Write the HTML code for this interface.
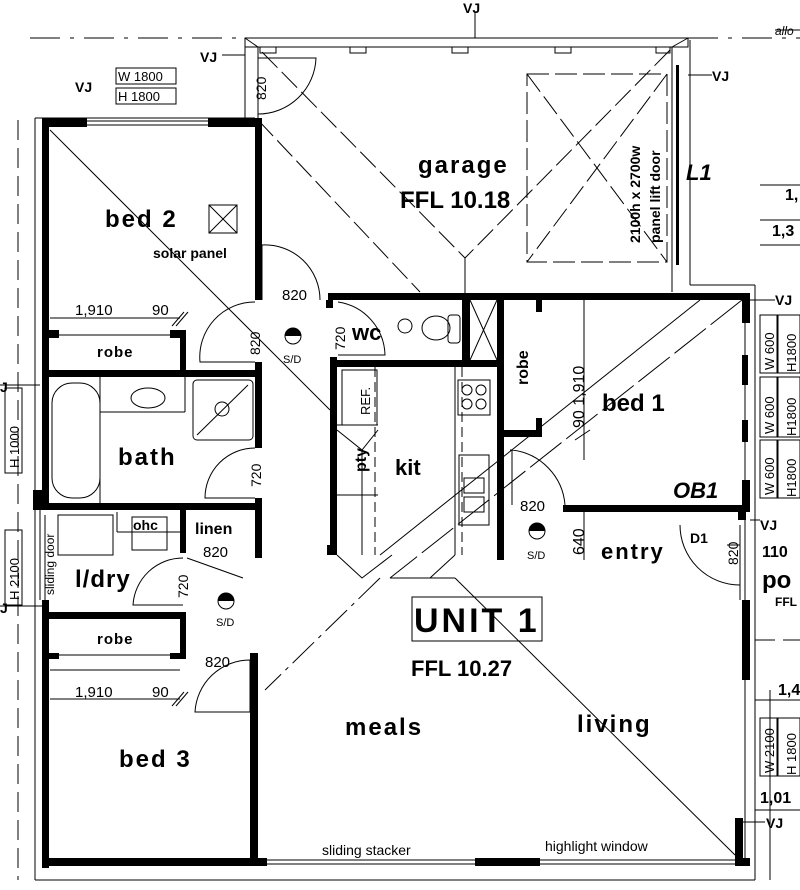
<!DOCTYPE html>
<html><head><meta charset="utf-8"><style>
html,body{margin:0;padding:0;background:#fff}
svg{display:block}
text{font-family:"Liberation Sans",sans-serif;fill:#000}
.b{font-weight:bold}
</style></head><body>
<svg width="800" height="890" viewBox="0 0 800 890" xmlns="http://www.w3.org/2000/svg">
<rect width="800" height="890" fill="#fff"/>
<g stroke="#000" stroke-width="1" fill="none">
<line x1="30" y1="38" x2="245" y2="38" stroke-dasharray="30,10,4,10"/>
<line x1="688" y1="38" x2="800" y2="38" stroke-dasharray="30,10,4,10"/>
<line x1="475" y1="12" x2="475" y2="38"/>
<line x1="18" y1="120" x2="18" y2="880" stroke-dasharray="20,8"/>
<line x1="35" y1="118" x2="35" y2="880"/>
<line x1="35" y1="118" x2="255" y2="118"/>
<line x1="35" y1="880" x2="755" y2="880"/>
<line x1="755" y1="285" x2="755" y2="880"/>
<line x1="690" y1="40" x2="690" y2="285"/>
<line x1="690" y1="285" x2="755" y2="285"/>
<line x1="755" y1="640" x2="800" y2="640" stroke-dasharray="20,8"/>
<line x1="760" y1="185" x2="800" y2="185"/><line x1="760" y1="220" x2="800" y2="220"/>
<line x1="760" y1="245" x2="800" y2="245"/>
<line x1="770" y1="690" x2="770" y2="880"/>
<line x1="755" y1="700" x2="800" y2="700"/>
<line x1="755" y1="810" x2="800" y2="810"/>
<!-- garage thin walls -->
<rect x="245" y="38" width="443" height="9"/>
<line x1="245" y1="47" x2="245" y2="118"/><line x1="258" y1="47" x2="258" y2="118"/>
<line x1="672" y1="47" x2="672" y2="292"/>
<line x1="245" y1="38" x2="258" y2="47"/><line x1="688" y1="38" x2="672" y2="47"/>
<rect x="260" y="47" width="16" height="6"/><rect x="350" y="47" width="16" height="6"/>
<rect x="452" y="47" width="16" height="6"/><rect x="555" y="47" width="16" height="6"/><rect x="656" y="47" width="14" height="6"/>
</g>
<g fill="#000">
<rect x="676" y="65" width="3" height="200"/>
<rect x="42" y="118" width="45" height="9"/>
<rect x="208" y="118" width="54" height="9"/>
<rect x="42" y="118" width="7" height="390"/>
<rect x="255" y="118" width="7" height="182"/>
<rect x="49" y="330" width="10" height="8"/>
<rect x="170" y="330" width="16" height="8"/>
<rect x="180" y="330" width="6" height="45"/>
<rect x="42" y="370" width="220" height="7"/>
<rect x="255" y="362" width="7" height="86"/>
<rect x="255" y="498" width="7" height="60"/>
<rect x="42" y="503" width="220" height="7"/>
<rect x="180" y="503" width="6" height="50"/>
<rect x="33" y="490" width="12" height="20"/>
<rect x="42" y="600" width="7" height="268"/>
<rect x="42" y="612" width="144" height="7"/>
<rect x="180" y="612" width="6" height="46"/>
<rect x="170" y="653" width="16" height="6"/>
<rect x="49" y="653" width="10" height="6"/>
<rect x="250" y="653" width="8" height="213"/>
<rect x="42" y="858" width="225" height="8"/>
<rect x="475" y="858" width="65" height="8"/>
<rect x="735" y="858" width="15" height="8"/>
<rect x="735" y="818" width="8" height="48"/>
<rect x="328" y="293" width="422" height="7"/>
<rect x="326" y="300" width="7" height="8"/>
<rect x="330" y="357" width="7" height="198"/>
<rect x="330" y="360" width="168" height="7"/>
<rect x="462" y="300" width="8" height="60"/>
<rect x="497" y="300" width="7" height="260"/>
<rect x="504" y="430" width="38" height="7"/>
<rect x="536" y="300" width="6" height="12"/>
<rect x="536" y="418" width="6" height="19"/>
<rect x="563" y="505" width="187" height="7"/>
<rect x="742" y="293" width="8" height="30"/>
<rect x="742" y="355" width="6" height="30"/>
<rect x="742" y="420" width="6" height="22"/>
<rect x="742" y="480" width="8" height="32"/>
<rect x="738" y="510" width="8" height="10"/>
<rect x="742" y="600" width="8" height="80"/>
<rect x="327" y="545" width="10" height="10"/>
</g>
<g stroke="#000" stroke-width="1" fill="none">
<line x1="87" y1="121" x2="208" y2="121"/><line x1="87" y1="125" x2="208" y2="125"/>
<line x1="267" y1="860" x2="475" y2="860"/><line x1="267" y1="864" x2="475" y2="864"/>
<line x1="540" y1="860" x2="735" y2="860"/><line x1="540" y1="864" x2="735" y2="864"/>
<line x1="745" y1="300" x2="745" y2="860"/>
<line x1="40" y1="510" x2="40" y2="600"/><line x1="45" y1="515" x2="45" y2="600"/>
<g stroke-dasharray="22,6">
<line x1="262" y1="52" x2="465" y2="258"/><line x1="670" y1="50" x2="465" y2="258"/>
<line x1="258" y1="120" x2="420" y2="292"/>
<rect x="527" y="74" width="140" height="188"/>
<line x1="527" y1="74" x2="667" y2="262"/><line x1="667" y1="74" x2="527" y2="262"/>
</g>
<line x1="465" y1="258" x2="465" y2="293"/>
<line x1="50" y1="130" x2="330" y2="410"/>
<line x1="50" y1="318" x2="180" y2="318"/>
<line x1="50" y1="335" x2="180" y2="335"/>
<line x1="50" y1="670" x2="180" y2="670"/>
<line x1="50" y1="699" x2="180" y2="699"/>
<line x1="50" y1="655" x2="180" y2="655"/>
<rect x="209" y="205" width="28" height="28"/><line x1="209" y1="205" x2="237" y2="233"/><line x1="237" y1="205" x2="209" y2="233"/>
<rect x="52" y="383" width="48" height="115" rx="20"/>
<line x1="100" y1="377" x2="100" y2="503"/>
<line x1="100" y1="412" x2="185" y2="412"/><line x1="185" y1="377" x2="185" y2="412"/>
<ellipse cx="148" cy="398" rx="17" ry="10"/>
<rect x="193" y="380" width="60" height="60" rx="4"/>
<line x1="197" y1="435" x2="248" y2="385"/>
<rect x="58" y="515" width="55" height="40"/>
<rect x="132" y="517" width="35" height="33"/>
<line x1="117" y1="512" x2="117" y2="532"/><line x1="117" y1="532" x2="180" y2="532"/>
<path d="M258,58 L316,58 A58,58 0 0,1 258,114"/>
<path d="M262,245 A55,55 0 0,1 320,300"/>
<line x1="262" y1="245" x2="262" y2="300"/>
<path d="M255,302 A55,55 0 0,0 200,362 L255,362"/>
<path d="M338,302 A55,55 0 0,1 385,355 L338,355"/>
<path d="M255,448 A50,50 0 0,0 205,498 L255,498"/>
<path d="M187,558 L243,578"/>
<path d="M183,558 A50,50 0 0,0 133,605 L183,605"/>
<path d="M250,660 A55,55 0 0,0 195,712 L250,712 L250,660"/>
<path d="M510,450 L512,450 L512,505 M512,450 A60,60 0 0,1 565,505"/>
<path d="M680,525 A60,60 0 0,0 740,585 M740,525 L740,600"/>
<ellipse cx="436" cy="328" rx="14" ry="12"/><rect x="448" y="315" width="12" height="28" rx="3"/>
<line x1="470" y1="300" x2="497" y2="360"/><line x1="497" y1="300" x2="470" y2="360"/>
<line x1="375" y1="367" x2="375" y2="555" stroke-dasharray="10,5"/>
<rect x="342" y="370" width="35" height="55"/>
<line x1="337" y1="425" x2="378" y2="425"/>
<line x1="337" y1="495" x2="378" y2="495"/>
<path d="M337,430 L362,450 L378,430"/>
<line x1="362" y1="450" x2="362" y2="555"/>
<line x1="455" y1="367" x2="455" y2="555"/>
<line x1="462" y1="367" x2="462" y2="555" stroke-dasharray="10,5"/>
<rect x="458" y="380" width="32" height="35"/>
<circle cx="467" cy="390" r="5"/><circle cx="481" cy="390" r="5"/><circle cx="467" cy="404" r="5"/><circle cx="481" cy="404" r="5"/>
<rect x="459" y="455" width="30" height="70"/>
<rect x="464" y="478" width="20" height="15"/><rect x="464" y="497" width="20" height="15"/>
<path d="M337,555 L362,578 L392,555"/>
<path d="M455,555 L430,578"/>
<line x1="742" y1="300" x2="390" y2="578" stroke-dasharray="40,6"/>
<line x1="700" y1="300" x2="380" y2="555"/>
<line x1="455" y1="578" x2="735" y2="855"/>
<line x1="380" y1="578" x2="265" y2="690" stroke-dasharray="30,6,4,6"/>
<line x1="390" y1="578" x2="455" y2="578"/>
<line x1="172" y1="326" x2="184" y2="312"/><line x1="176" y1="326" x2="188" y2="312"/>
<line x1="172" y1="706" x2="184" y2="692"/><line x1="176" y1="706" x2="188" y2="692"/>
<line x1="584" y1="300" x2="584" y2="460"/><line x1="575" y1="440" x2="590" y2="430"/>
<line x1="584" y1="512" x2="584" y2="560"/>
<line x1="727" y1="545" x2="740" y2="545"/>
<line x1="222" y1="55" x2="245" y2="55"/>
<line x1="688" y1="75" x2="712" y2="75"/>
<line x1="750" y1="300" x2="775" y2="300"/><line x1="750" y1="520" x2="760" y2="520"/>
<line x1="0" y1="385" x2="40" y2="385"/><line x1="0" y1="606" x2="42" y2="606"/>
<line x1="740" y1="822" x2="765" y2="822"/>
<rect x="116" y="68" width="60" height="16"/><rect x="116" y="88" width="60" height="16"/>
<rect x="5" y="388" width="17" height="85"/><rect x="5" y="530" width="17" height="75"/>
<rect x="760" y="315" width="17" height="58"/><rect x="778" y="315" width="22" height="58"/>
<rect x="760" y="377" width="17" height="60"/><rect x="778" y="377" width="22" height="60"/>
<rect x="760" y="440" width="17" height="58"/><rect x="778" y="440" width="22" height="58"/>
<rect x="760" y="718" width="17" height="58"/><rect x="778" y="718" width="22" height="58"/>
<rect x="412" y="597" width="130" height="44"/>
<line x1="775" y1="30" x2="800" y2="30"/>
</g>
<g>
<circle cx="293" cy="336" r="8" fill="none" stroke="#000"/><path d="M285,336 A8,8 0 0,1 301,336Z" fill="#000"/>
<circle cx="537" cy="531" r="8" fill="none" stroke="#000"/><path d="M529,531 A8,8 0 0,1 545,531Z" fill="#000"/>
<circle cx="226" cy="601" r="8" fill="none" stroke="#000"/><path d="M218,601 A8,8 0 0,1 234,601Z" fill="#000"/>
<circle cx="405" cy="326" r="7" fill="none" stroke="#000"/>
<circle cx="222" cy="409" r="7" fill="none" stroke="#000"/>
</g>
<g>
<text x="463" y="13" font-size="14" class="b">VJ</text>
<text x="200" y="62" font-size="14" class="b">VJ</text>
<text x="75" y="92" font-size="14" class="b">VJ</text>
<text x="712" y="81" font-size="14" class="b">VJ</text>
<text x="775" y="305" font-size="14" class="b">VJ</text>
<text x="760" y="530" font-size="14" class="b">VJ</text>
<text x="766" y="828" font-size="14" class="b">VJ</text>
<text x="0" y="392" font-size="14" class="b">J</text>
<text x="0" y="613" font-size="14" class="b">J</text>
</g>
<g>
<text x="418" y="173" font-size="24" class="b" letter-spacing="2">garage</text>
<text x="400" y="208" font-size="24" class="b">FFL 10.18</text>
<text x="686" y="180" font-size="22" class="b" font-style="italic">L1</text>
<text x="105" y="227" font-size="24" class="b" letter-spacing="2">bed 2</text>
<text x="153" y="258" font-size="14" class="b">solar panel</text>
<text x="97" y="357" font-size="15" class="b" letter-spacing="1">robe</text>
<text x="118" y="465" font-size="24" class="b" letter-spacing="2">bath</text>
<text x="195" y="534" font-size="16" class="b">linen</text>
<text x="133" y="530" font-size="14" class="b">ohc</text>
<text x="75" y="587" font-size="24" class="b" letter-spacing="1">l/dry</text>
<text x="97" y="644" font-size="15" class="b" letter-spacing="1">robe</text>
<text x="119" y="767" font-size="24" class="b" letter-spacing="2">bed 3</text>
<text x="352" y="340" font-size="22" class="b">wc</text>
<text x="395" y="475" font-size="22" class="b">kit</text>
<text x="602" y="411" font-size="24" class="b">bed 1</text>
<text x="673" y="498" font-size="22" class="b" font-style="italic">OB1</text>
<text x="601" y="559" font-size="22" class="b" letter-spacing="2">entry</text>
<text x="690" y="543" font-size="14" class="b">D1</text>
<text x="414" y="632" font-size="34" class="b" letter-spacing="3">UNIT 1</text>
<text x="411" y="676" font-size="22" class="b">FFL 10.27</text>
<text x="345" y="735" font-size="24" class="b" letter-spacing="2">meals</text>
<text x="577" y="732" font-size="24" class="b" letter-spacing="2">living</text>
<text x="762" y="588" font-size="24" class="b">po</text>
<text x="775" y="606" font-size="12" class="b">FFL</text>
<text x="785" y="200" font-size="16" class="b">1,</text>
<text x="772" y="236" font-size="16" class="b">1,3</text>
<text x="778" y="695" font-size="16" class="b">1,4</text>
<text x="760" y="803" font-size="16" class="b">1,01</text>
<text x="762" y="557" font-size="16" class="b">110</text>
</g>
<g font-size="15">
<text x="75" y="315">1,910</text><text x="152" y="315">90</text>
<text x="75" y="697">1,910</text><text x="152" y="697">90</text>
<text x="282" y="300">820</text>
<text x="203" y="557">820</text>
<text x="205" y="667">820</text>
<text x="520" y="511">820</text>
<text x="322" y="855" font-size="14">sliding stacker</text>
<text x="545" y="851" font-size="14">highlight window</text>
<text x="283" y="363" font-size="11">S/D</text>
<text x="527" y="559" font-size="11">S/D</text>
<text x="216" y="626" font-size="11">S/D</text>
<text x="775" y="35" font-size="12" font-style="italic">allo</text>
<text x="118" y="81" font-size="13">W 1800</text>
<text x="118" y="101" font-size="13">H 1800</text>
</g>
<g font-size="14">
<text transform="translate(266,100) rotate(-90)">820</text>
<text transform="translate(260,355) rotate(-90)">820</text>
<text transform="translate(345,350) rotate(-90)">720</text>
<text transform="translate(261,487) rotate(-90)">720</text>
<text transform="translate(188,598) rotate(-90)">720</text>
<text transform="translate(584,555) rotate(-90)" font-size="16">640</text>
<text transform="translate(584,428) rotate(-90)" font-size="16">90  1,910</text>
<text transform="translate(738,565) rotate(-90)">820</text>
<text transform="translate(370,415) rotate(-90)" font-size="13">REF.</text>
<text transform="translate(366,472) rotate(-90)" font-size="16" font-weight="bold">pty</text>
<text transform="translate(528,385) rotate(-90)" font-size="16" font-weight="bold">robe</text>
<text transform="translate(54,595) rotate(-90)" font-size="12">sliding door</text>
<text transform="translate(640,243) rotate(-90)" font-size="14" font-weight="bold">2100h x 2700w</text>
<text transform="translate(660,243) rotate(-90)" font-size="14" font-weight="bold">panel lift door</text>
<text transform="translate(19,468) rotate(-90)" font-size="13">H 1000</text>
<text transform="translate(19,600) rotate(-90)" font-size="13">H 2100</text>
<text transform="translate(774,370) rotate(-90)" font-size="13">W 600</text>
<text transform="translate(796,372) rotate(-90)" font-size="13">H1800</text>
<text transform="translate(774,434) rotate(-90)" font-size="13">W 600</text>
<text transform="translate(796,436) rotate(-90)" font-size="13">H1800</text>
<text transform="translate(774,495) rotate(-90)" font-size="13">W 600</text>
<text transform="translate(796,497) rotate(-90)" font-size="13">H1800</text>
<text transform="translate(774,773) rotate(-90)" font-size="13">W 2100</text>
<text transform="translate(796,775) rotate(-90)" font-size="13">H 1800</text>
</g>
</svg>
</body></html>
